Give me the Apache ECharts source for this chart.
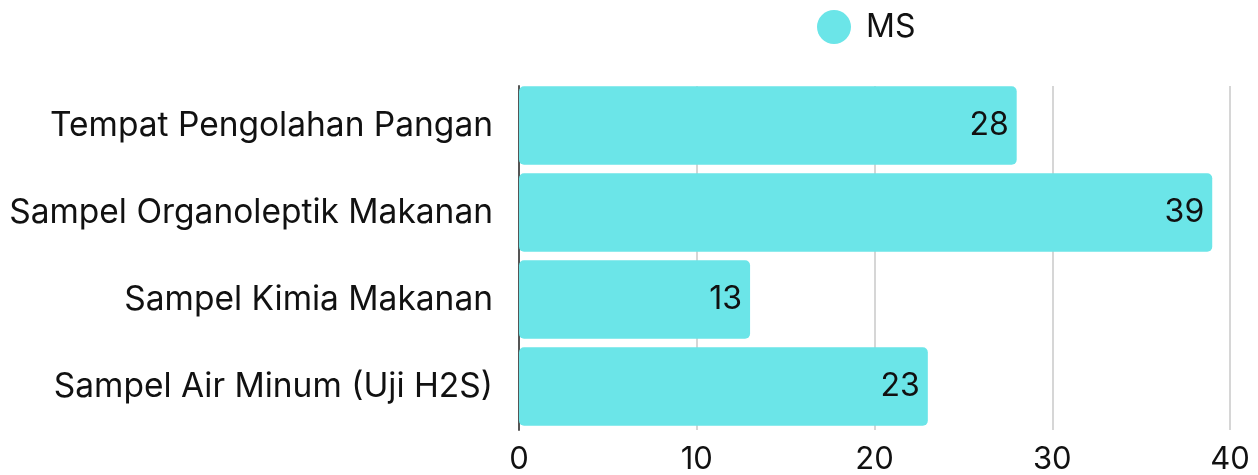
<!DOCTYPE html>
<html>
<head>
<meta charset="utf-8">
<script src="https://cdn.jsdelivr.net/npm/echarts@6/dist/echarts.min.js"></script>
<style>
  html, body { margin: 0; padding: 0; background: #fff; }
  #main { width: 1258px; height: 475px; }
</style>
</head>
<body>
<div id="main"></div>
<script>
// data
var categories = ['Tempat Pengolahan Pangan', 'Sampel Organoleptik Makanan', 'Sampel Kimia Makanan', 'Sampel Air Minum (Uji H2S)'];
var msValues = [28, 39, 13, 23];
var xTicks = [0, 10, 20, 30, 40];

var font = 'Inter';
var chart = echarts.init(document.getElementById('main'));

var option = {
  animation: false,
  textStyle: { fontFamily: font },
  legend: {
    data: ['MS'],
    left: 812,
    top: 5,
    icon: 'circle',
    itemWidth: 34,
    itemHeight: 34,
    textStyle: { fontSize: 32, color: '#111', padding: [0, 0, 0, 10] }
  },
  grid: [
    // bars
    { left: 519, right: 28, top: 82, height: 352 },
    // grid lines + axis line only span the bar area
    { left: 519, right: 28, top: 86, height: 344 }
  ],
  xAxis: [
    {
      type: 'value', gridIndex: 0,
      min: xTicks[0], max: xTicks[xTicks.length - 1], interval: 10,
      axisLine: { show: false },
      axisTick: { show: false },
      splitLine: { show: false },
      axisLabel: { fontSize: 31, color: '#111', margin: 14 }
    },
    {
      type: 'value', gridIndex: 1,
      min: xTicks[0], max: xTicks[xTicks.length - 1], interval: 10,
      axisLine: { show: false },
      axisTick: { show: false },
      axisLabel: { show: false },
      splitLine: { show: true, lineStyle: { color: '#c8c8c8', width: 1.5 } }
    }
  ],
  yAxis: [
    {
      type: 'category', gridIndex: 0,
      data: categories,
      inverse: true,
      axisLine: { show: false },
      axisTick: { show: false },
      axisLabel: { fontSize: 33.5, color: '#111', margin: 26 }
    },
    {
      type: 'category', gridIndex: 1,
      data: categories, inverse: true,
      axisLine: { show: true, lineStyle: { color: '#555', width: 2 } },
      axisTick: { show: false },
      axisLabel: { show: false },
      splitLine: { show: false }
    }
  ],
  series: [
    {
      name: 'MS',
      type: 'bar',
      data: msValues,
      barCategoryGap: '10%',
      itemStyle: { color: '#6be5e8', borderRadius: 5 },
      label: {
        show: true,
        position: 'insideRight',
        distance: 8,
        fontSize: 32,
        color: '#111'
      }
    }
  ]
};

chart.setOption(option);
</script>
</body>
</html>
